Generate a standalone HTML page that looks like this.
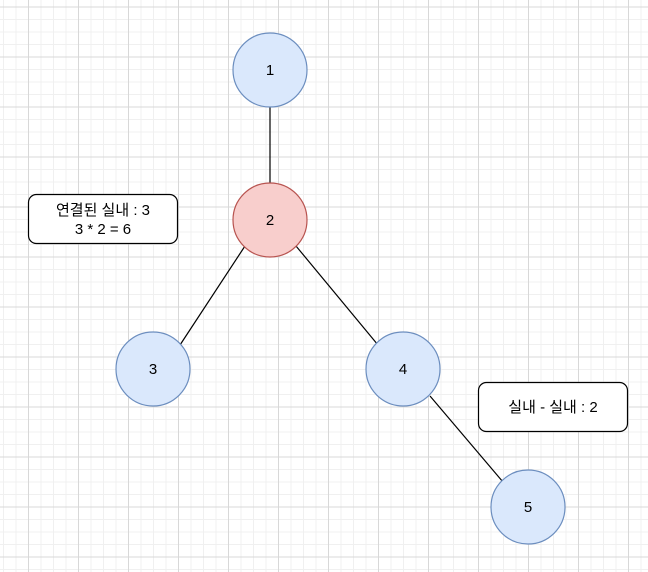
<!DOCTYPE html>
<html><head><meta charset="utf-8"><style>
html,body{margin:0;padding:0;background:#fff;width:648px;height:572px;overflow:hidden}
</style></head><body>
<svg width="648" height="572" xmlns="http://www.w3.org/2000/svg" style="display:block">
<defs>
<pattern id="mi" width="12.5" height="12.5" patternUnits="userSpaceOnUse" x="3" y="6.5">
<path d="M0 0.5H12.5M0.5 0V12.5" stroke="#f0f0f0" stroke-width="1" fill="none"/>
</pattern>
<pattern id="ma" width="50" height="50" patternUnits="userSpaceOnUse" x="28" y="6.5">
<path d="M0 0.5H50M0.5 0V50" stroke="#d8d8d8" stroke-width="1" fill="none"/>
</pattern>
</defs>
<rect width="648" height="572" fill="url(#mi)"/>
<rect width="648" height="572" fill="url(#ma)"/>
<g stroke="#000" stroke-width="1.2">
<line x1="270" y1="107" x2="270" y2="183"/>
<line x1="245" y1="246" x2="180" y2="345"/>
<line x1="296" y1="246" x2="378" y2="345"/>
<line x1="430" y1="396" x2="503" y2="482"/>
</g>
<g stroke="#6c8ebf" stroke-width="1.2" fill="#dae8fc">
<circle cx="270" cy="70" r="37"/>
<circle cx="153" cy="369" r="37"/>
<circle cx="403" cy="369" r="37"/>
<circle cx="528" cy="507" r="37"/>
</g>
<circle cx="270" cy="220" r="37" fill="#f8cecc" stroke="#b85450" stroke-width="1.2"/>
<rect x="28.5" y="194.5" width="149" height="49" rx="8" fill="#fff" stroke="#000" stroke-width="1.2"/>
<rect x="478.5" y="382.5" width="149" height="49" rx="8" fill="#fff" stroke="#000" stroke-width="1.2"/>
<g font-family="Liberation Sans, Noto Sans CJK KR, sans-serif" font-size="15" fill="#000" text-anchor="middle">
<text x="270" y="75">1</text>
<text x="270" y="225">2</text>
<text x="153" y="374">3</text>
<text x="403" y="374">4</text>
<text x="528" y="512">5</text>
<text x="103" y="215">연결된 실내 : 3</text>
<text x="103" y="234">3 * 2 = 6</text>
<text x="553" y="412">실내 - 실내 : 2</text>
</g>
</svg>
</body></html>
